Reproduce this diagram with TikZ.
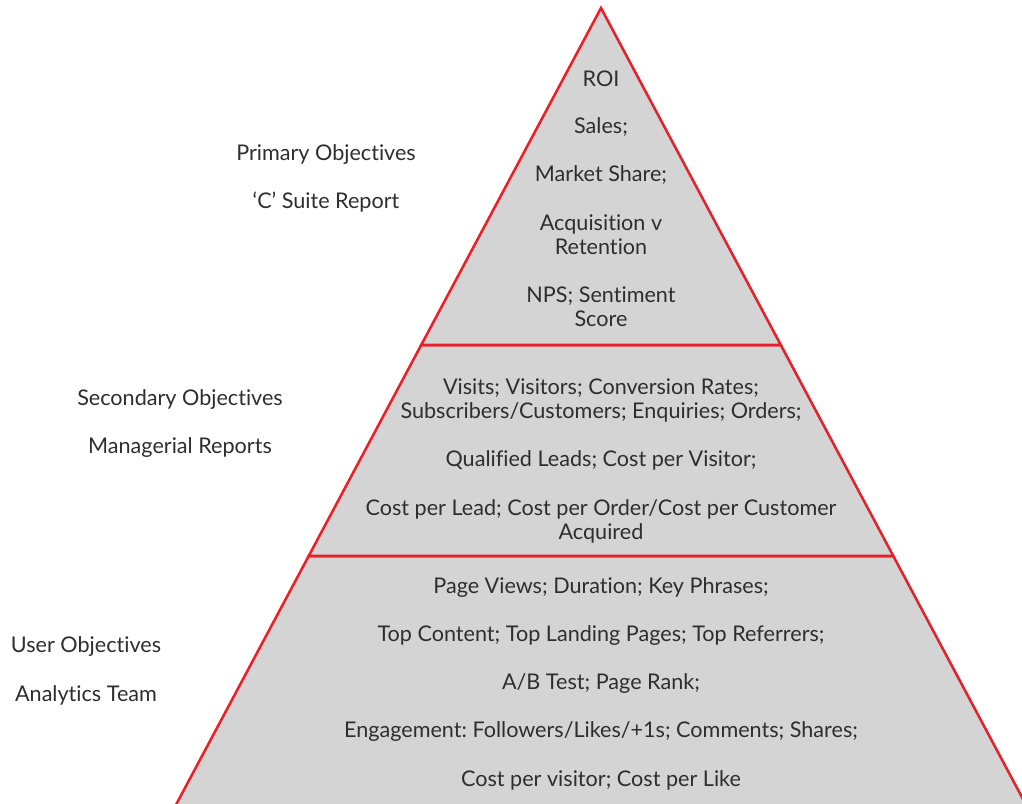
\documentclass[tikz,border=0pt]{standalone}
\usepackage{fontspec}
\setmainfont{Lato}[Ligatures={NoCommon,NoDiscretionary,NoRare}]
\frenchspacing
\definecolor{pyrred}{HTML}{E8202A}
\definecolor{pyrgray}{HTML}{D4D4D4}
\definecolor{txt}{HTML}{2E2E2E}
\begin{document}
\begin{tikzpicture}[x=0.75pt,y=-0.75pt,
  band/.style={fill=pyrgray,draw=pyrred,line width=1.9pt,line join=miter},
  lbl/.style={text=txt,font=\fontsize{16.2}{18}\selectfont\frenchspacing,align=center,inner sep=0pt},
]
\useasboundingbox (0,0) rectangle (1022,804);
\clip (0,0) rectangle (1022,804);
% pyramid geometry
\coordinate (apex) at (601,8);
\coordinate (l1) at (421.2,345);
\coordinate (r1) at (780.8,345);
\coordinate (l2) at (308.7,556);
\coordinate (r2) at (893.3,556);
\coordinate (l3) at (170,816);
\coordinate (r3) at (1032,816);
\path[band] (l2) -- (r2) -- (r3) -- (l3) -- cycle;
\path[band] (l1) -- (r1) -- (r2) -- (l2) -- cycle;
\path[band] (apex) -- (r1) -- (l1) -- cycle;
% top band
\node[lbl] (roi) at (601,79) {ROI};
\node[lbl] (sales) at (601,127) {Sales;};
\node[lbl] (market) at (601,175) {Market Share;};
\node[lbl] (acq) at (601,235) {Acquisition v\\Retention};
\node[lbl] (nps) at (601,307) {NPS; Sentiment\\Score};
% middle band
\node[lbl] (visits) at (601,400) {Visits; Visitors; Conversion Rates;\\Subscribers/Customers; Enquiries; Orders;};
\node[lbl] (qual) at (601,460) {Qualified Leads; Cost per Visitor;};
\node[lbl] (cpl) at (601,521) {Cost per Lead; Cost per Order/Cost per Customer\\Acquired};
% bottom band
\node[lbl] (pv) at (601,588) {Page Views; Duration; Key Phrases;};
\node[lbl] (top) at (601,636) {Top Content; Top Landing Pages; Top Referrers;};
\node[lbl] (ab) at (601,684) {A/B Test; Page Rank;};
\node[lbl] (eng) at (601,732) {Engagement: Followers/Likes/+1s; Comments; Shares;};
\node[lbl] (cpv) at (601,780) {Cost per visitor; Cost per Like};
% side labels
\node[lbl] (prim) at (326,155) {Primary Objectives};
\node[lbl] (csuite) at (326,202) {‘C’ Suite Report};
\node[lbl] (sec) at (180,400) {Secondary Objectives};
\node[lbl] (mgr) at (180,448) {Managerial Reports};
\node[lbl] (user) at (86,647) {User Objectives};
\node[lbl] (team) at (86,695) {Analytics Team};
\end{tikzpicture}
\end{document}
